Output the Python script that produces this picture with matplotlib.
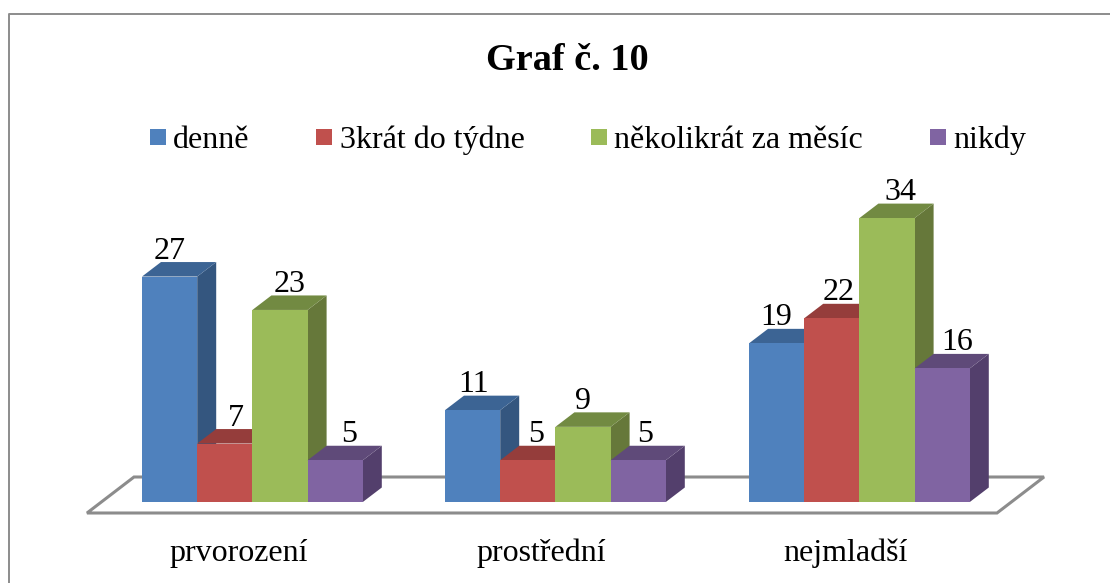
import matplotlib
matplotlib.use('Agg')
import matplotlib.pyplot as plt
from matplotlib.patches import Polygon, Rectangle

plt.rcParams['font.family'] = ['Liberation Serif', 'DejaVu Serif']

categories = ['prvorození', 'prostřední', 'nejmladší']
series_names = ['denně', '3krát do týdne', 'několikrát za měsíc', 'nikdy']
denne = [27, 11, 19]
tri_krat = [7, 5, 22]
nekolikrat = [23, 9, 34]
nikdy = [5, 5, 16]
series_values = [denne, tri_krat, nekolikrat, nikdy]

front_colors = ['#4f81bd', '#c0504d', '#9bbb59', '#8064a2']
side_colors = ['#34567f', '#833735', '#66783a', '#533f6c']
top_colors = ['#3c6494', '#953d3b', '#728a42', '#5f4a79']

W, H = 1110, 583
BASE = 502        # pixel row of value 0
SCALE = 8.35      # pixels per unit
BAR_W = 55.2
DX, DY = 19, 14.5
group_left = [142, 445, 749]
label_shift = [[0, 11, 10, 14], [1, 8, 0, 7], [0, 7, 13, 15]]
legend_box = [150, 316, 591, 930]
legend_text = [173, 340, 614, 953]

fig = plt.figure(figsize=(W / 100, H / 100), dpi=100)

# pixel overlay for frame, floor, title and legend
bg = fig.add_axes([0, 0, 1, 1], zorder=0)
bg.set_xlim(0, W)
bg.set_ylim(H, 0)
bg.axis('off')
bg.plot([9, 9, W], [H, 14, 14], color='#8c8c8c', lw=1.4)
bg.add_patch(Polygon([(87, 513), (134, 477), (1044, 477), (997, 513)], closed=True,
                     facecolor='white', edgecolor='#8c8c8c', lw=2.2))
bg.text(567, 70, 'Graf č. 10', fontsize=27.5, fontweight='bold', ha='center', va='baseline')
for name, color, bx, tx in zip(series_names, front_colors, legend_box, legend_text):
    bg.add_patch(Rectangle((bx, 129), 16, 16, color=color, lw=0))
    bg.text(tx, 148, name, fontsize=23, ha='left', va='baseline')
for name, left in zip(categories, group_left):
    bg.text(left + 2 * BAR_W - 14, 561, name, fontsize=23, ha='center', va='baseline')

# value axes, shares the pixel x range
ax = fig.add_axes([0, 0, 1, 1], zorder=1)
ax.patch.set_alpha(0)
ax.set_xlim(0, W)
ax.set_ylim((BASE - H) / SCALE, BASE / SCALE)
ax.axis('off')

dy = DY / SCALE
for g, left in enumerate(group_left):
    for s, values in enumerate(series_values):
        v = values[g]
        x0 = left + s * BAR_W
        x1 = x0 + BAR_W
        ax.add_patch(Polygon([(x1, 0), (x1 + DX, dy), (x1 + DX, v + dy), (x1, v)],
                             facecolor=side_colors[s], lw=0, zorder=2 + s))
        ax.add_patch(Polygon([(x0, v), (x0 + DX, v + dy), (x1 + DX, v + dy), (x1, v)],
                             facecolor=top_colors[s], lw=0, zorder=2 + s))
        ax.bar(x0, v, width=BAR_W, align='edge', color=front_colors[s], lw=0, zorder=2 + s)
        ax.text(x0 + BAR_W / 2 + label_shift[g][s], v + dy + 3.5 / SCALE, str(v),
                fontsize=23, ha='center', va='baseline', zorder=10)

fig.savefig('out.png', dpi=100)
